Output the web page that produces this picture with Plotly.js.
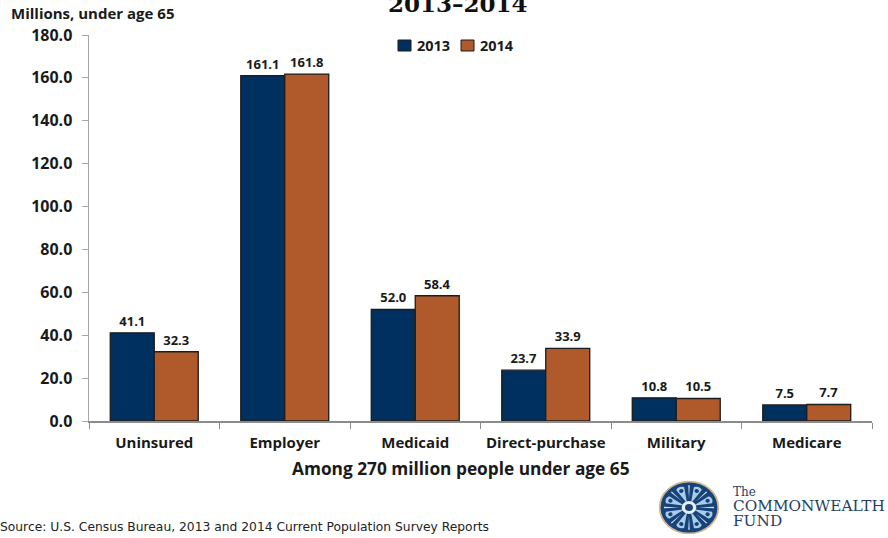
<!DOCTYPE html>
<html>
<head>
<meta charset="utf-8">
<script src="https://cdn.plot.ly/plotly-3.0.1.min.js"></script>
<style>html,body{margin:0;padding:0;background:#fff}#chart{width:888px;height:538px}</style>
</head>
<body>
<div id="chart"></div>
<script>
// Coverage by source, millions of people under age 65
const categories = ["Uninsured", "Employer", "Medicaid", "Direct-purchase", "Military", "Medicare"];
const values2013 = [41.1, 161.1, 52.0, 23.7, 10.8, 7.5];
const values2014 = [32.3, 161.8, 58.4, 33.9, 10.5, 7.7];
const yTicks = [0, 20, 40, 60, 80, 100, 120, 140, 160, 180];
const seriesNames = ["2013", "2014"];
const seriesColors = ["#00305f", "#b05a2b"];

const sansBold = '"Open Sans", "Noto Sans", sans-serif';
const ink = "#1a1a1a";

// Plot rectangle in page pixels, used to place the free-standing text
const plot = {l: 89, r: 872, t: 35, b: 421};
const px = x => (x - plot.l) / (plot.r - plot.l);
const py = y => (plot.b - y) / (plot.b - plot.t);

function note(text, x, y, font, anchor) {
  return {text, xref: "paper", yref: "paper", x: px(x), y: py(y),
          xanchor: anchor || "left", yanchor: "middle", showarrow: false, font};
}

// Fund emblem: a navy medallion with pale rays around a central dot
function emblem() {
  let rays = "";
  for (let i = 0; i < 8; i++) {
    const a = i * 45 + 22.5;
    rays += `<g transform="rotate(${a} 50 50)">
      <path d="M50 42 L43 12 Q50 6 57 12 Z" fill="#a9cde6"/>
      <circle cx="50" cy="17" r="3.6" fill="#17427a"/></g>`;
    rays += `<g transform="rotate(${a + 22.5} 50 50)"><path d="M50 34 L48.8 9 L51.2 9 Z" fill="#d6e8f4"/></g>`;
  }
  const svg = `<svg xmlns="http://www.w3.org/2000/svg" viewBox="0 0 100 100" width="100" height="100" preserveAspectRatio="none">
    <circle cx="50" cy="50" r="48" fill="#17427a" stroke="#cdb68f" stroke-width="3"/>
    ${rays}
    <circle cx="50" cy="50" r="12" fill="#e6f0f8"/>
    <circle cx="50" cy="50" r="6.5" fill="#17427a"/></svg>`;
  return "data:image/svg+xml;base64," + btoa(svg);
}

const barLine = {color: "#1c1c1c", width: 1.3};
const barLabels = {family: sansBold, size: 13, color: ink, weight: 700};

const traces = [values2013, values2014].map((vals, i) => ({
  type: "bar", name: seriesNames[i], x: categories, y: vals,
  marker: {color: seriesColors[i], line: barLine},
  text: vals.map(v => v.toFixed(1)), textposition: "outside",
  textfont: barLabels, cliponaxis: false
}));

// Compact key above the bars: a small swatch hugging each year
const keyFont = {family: sansBold, size: 14.5, color: ink, weight: 700};
const keySwatchX = [398, 461];
const keyShapes = keySwatchX.map((x, i) => ({
  type: "rect", xref: "paper", yref: "paper",
  x0: px(x), x1: px(x + 13), y0: py(51), y1: py(40),
  fillcolor: seriesColors[i], line: {color: "#1c1c1c", width: 1}
}));
const keyNotes = keySwatchX.map((x, i) => note(seriesNames[i], x + 17, 45.5, keyFont));

const layout = {
  width: 888, height: 538,
  margin: {l: plot.l, r: 888 - plot.r, t: plot.t, b: 538 - plot.b},
  paper_bgcolor: "#fff", plot_bgcolor: "#fff",
  barmode: "group", bargap: 0.326, bargroupgap: 0,
  showlegend: false,
  xaxis: {
    type: "category", tickson: "boundaries", ticks: "outside", ticklen: 6,
    tickcolor: "#8c8c8c", showline: true, linecolor: "#8c8c8c", linewidth: 1.5, showgrid: false,
    tickfont: {family: sansBold, size: 15, color: ink, weight: 700},
    ticklabelstandoff: 7, automargin: false
  },
  yaxis: {
    range: [0, 180], tickvals: yTicks, ticktext: yTicks.map(v => v.toFixed(1)),
    ticks: "outside", ticklen: 6, tickcolor: "#a6a6a6",
    showline: true, linecolor: "#a6a6a6", linewidth: 1.5, showgrid: false, zeroline: false,
    tickfont: {family: sansBold, size: 16, color: ink, weight: 700},
    ticklabelstandoff: 6, automargin: false
  },
  shapes: keyShapes,
  images: [{source: emblem(), xref: "paper", yref: "paper", xanchor: "left", yanchor: "top",
            sizex: 61 / 783, sizey: 54 / 386, x: px(658.5), y: py(480.5),
            sizing: "stretch", layer: "above"}],
  annotations: keyNotes.concat([
    note("2013–2014", 458, 4, {family: '"DejaVu Serif", serif', size: 23, color: "#111", weight: 700}, "center"),
    note("Millions, under age 65", 9, 13, {family: sansBold, size: 15, color: ink, weight: 700}),
    note("Among 270 million people under age 65", 461, 468, {family: sansBold, size: 17.3, color: ink, weight: 700}, "center"),
    note("Source: U.S. Census Bureau, 2013 and 2014 Current Population Survey Reports", -2, 527,
         {family: '"DejaVu Sans", sans-serif', size: 12.3, color: "#222"}),
    note("The", 731, 492, {family: '"DejaVu Serif", serif', size: 12, color: "#1f3f66"}),
    note("COMMONWEALTH", 731, 506.5, {family: '"DejaVu Serif", serif', size: 15.3, color: "#1f3f66"}),
    note("FUND", 731, 520.5, {family: '"DejaVu Serif", serif', size: 15.3, color: "#1f3f66"})
  ])
};

Plotly.newPlot("chart", traces, layout, {displayModeBar: false, staticPlot: true});
</script>
</body>
</html>
